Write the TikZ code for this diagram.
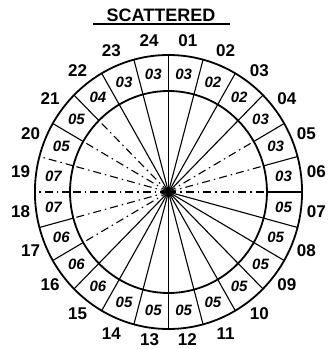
\documentclass[tikz,border=0pt]{standalone}
\usepackage{fontspec}
\setmainfont{Liberation Sans}
\begin{document}
\begin{tikzpicture}[x=1pt,y=1pt,xscale=0.975,
  ringline/.style={line width=1.8pt},
  spoke/.style={line width=1.1pt},
  dspoke/.style={line width=1.1pt, dash pattern=on 8pt off 4pt on 1.5pt off 4pt},
  hour/.style={font=\bfseries\fontsize{17}{17}\selectfont},
  val/.style={font=\bfseries\itshape\fontsize{15}{15}\selectfont},
  ttl/.style={font=\bfseries\fontsize{18}{18}\selectfont}]
\useasboundingbox (-172.8,-157) rectangle (170.8,192);
\coordinate (c) at (0,0);
% circles
\draw[ringline] (c) circle (137);
\draw[ringline] (c) circle (101);
% spokes: angle clockwise from north / inner style / ring style
\foreach \a/\si/\so in {0/spoke/spoke,15/spoke/spoke,30/spoke/spoke,45/spoke/spoke,
  60/dspoke/spoke,75/dspoke/spoke,90/dspoke/spoke,105/spoke/spoke,120/spoke/spoke,
  135/spoke/spoke,150/spoke/spoke,165/spoke/spoke,180/spoke/spoke,195/spoke/spoke,
  210/spoke/spoke,225/spoke/spoke,240/dspoke/spoke,255/dspoke/spoke,270/dspoke/dspoke,
  285/dspoke/dspoke,300/dspoke/spoke,315/dspoke/spoke,330/spoke/spoke,345/spoke/spoke}{
  \coordinate (i\a) at ({90-\a}:101);
  \coordinate (o\a) at ({90-\a}:137);
  \draw[\si] (c) -- (i\a);
  \draw[\so] (i\a) -- (o\a);
}
\fill (c) circle (2.5);
% hour labels
\foreach \h/\r [count=\k from 0] in {01/153,02/153,03/153,04/153,05/153,06/153,07/153,08/153,
  09/153,10/153,11/153,12/149,13/149,14/153,15/153,16/153,17/153,18/153,19/153,20/153,
  21/153,22/153,23/153,24/153}{
  \node[hour] (h\h) at ({90-7.5-15*\k}:\r) {\h};
}
% ring values
\foreach \v [count=\k from 0] in {03,02,02,03,03,03,05,05,05,05,05,05,05,05,06,06,06,07,07,05,05,04,03,03}{
  \node[val] (v\k) at ({90-7.5-15*\k}:119) {\v};
}
% title
\node[ttl] (title) at (-7.7,177) {SCATTERED};
\coordinate (ula) at (-77.4,168);
\coordinate (ulb) at (63,168);
\draw[line width=1.6pt] (ula) -- (ulb);
\end{tikzpicture}
\end{document}
